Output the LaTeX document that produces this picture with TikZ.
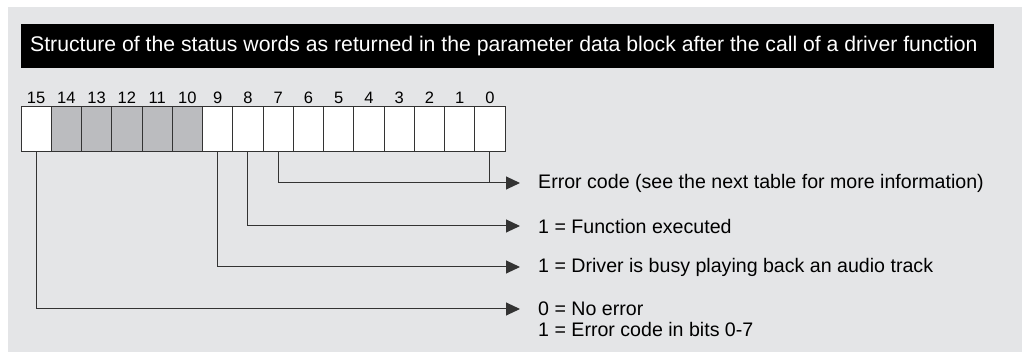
\documentclass[tikz,border=0pt]{standalone}
\usepackage{fontspec}
\setmainfont{Liberation Sans}
\usetikzlibrary{arrows.meta,positioning,calc}
\definecolor{panelgray}{HTML}{E4E5E7}
\definecolor{bitgray}{HTML}{BBBCBF}
\definecolor{linegray}{HTML}{333333}

\begin{document}
\begin{tikzpicture}[x=1pt,y=-1pt,
  bitcell/.style={draw=linegray,line width=1pt,minimum width=30.25pt,minimum height=45pt,inner sep=0pt,outer sep=0pt},
  bitno/.style={font=\fontsize{16.5}{19}\selectfont,inner sep=0pt},
  desc/.style={font=\fontsize{19.6}{23}\selectfont,anchor=west,inner sep=0pt},
  lead/.style={draw=linegray,line width=1pt,-{Triangle[length=14pt,width=13pt]}}]
\useasboundingbox (0,0) rectangle (1022,352);
% panel and title bar
\fill[panelgray] (8,7) rectangle (1022,352);
\fill[black] (21,24) rectangle (994,68);
\node[anchor=west,inner sep=0pt,text=white,font=\fontsize{21.2}{25}\selectfont] (title) at (30,46)
  {Structure of the status words as returned in the parameter data block after the call of a driver function};
% status word bits
\foreach \i/\c in {15/white,14/bitgray,13/bitgray,12/bitgray,11/bitgray,10/bitgray,9/white,8/white,
                   7/white,6/white,5/white,4/white,3/white,2/white,1/white,0/white} {
  \node[bitcell,fill=\c] (b\i) at (36.125+30.25*15-30.25*\i,129.5) {};
  \node[bitno] (n\i) at (36.125+30.25*15-30.25*\i,98) {\i};
}
% descriptions
\node[desc] (d0) at (538,183) {Error code (see the next table for more information)};
\node[desc] (d8) at (538,226) {1 = Function executed};
\node[desc] (d9) at (538,267) {1 = Driver is busy playing back an audio track};
\node[desc] (d15) at (538,309) {0 = No error};
\node[desc] (d15b) at (538,329) {1 = Error code in bits 0-7};
% leads
\draw[linegray,line width=1pt] (b0.south) -- (b0.south |- d0.west);
\draw[lead] (b7.south) |- ([xshift=-18pt]d0.west);
\draw[lead] (b8.south) |- ([xshift=-18pt]d8.west);
\draw[lead] (b9.south) |- ([xshift=-18pt]d9.west);
\draw[lead] (b15.south) |- ([xshift=-18pt]d15.west);
\end{tikzpicture}
\end{document}
